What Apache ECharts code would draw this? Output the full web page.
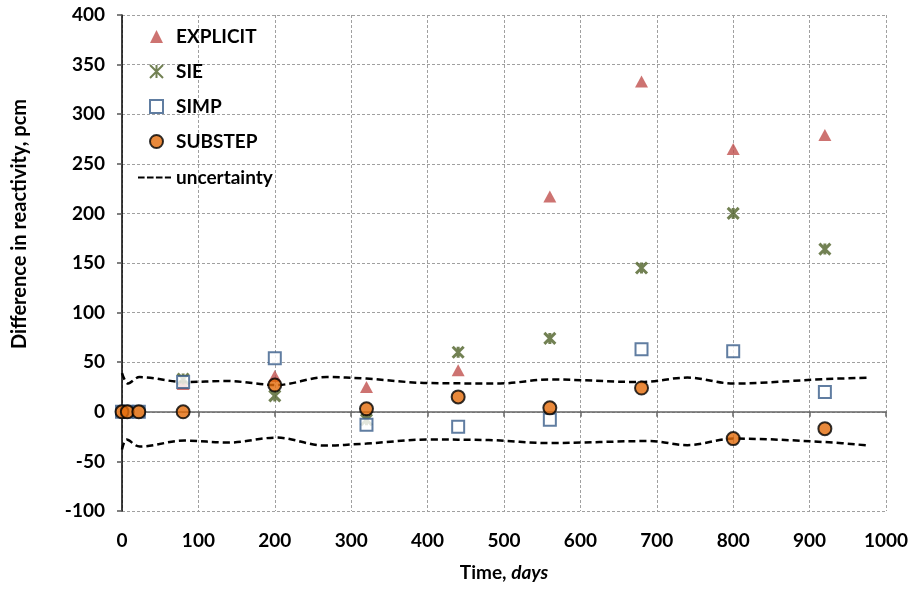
<!DOCTYPE html>
<html>
<head>
<meta charset="utf-8">
<script src="https://cdn.jsdelivr.net/npm/echarts@6/dist/echarts.min.js"></script>
<style>
  html, body { margin: 0; padding: 0; background: #fff; }
  #chart { width: 914px; height: 590px; }
</style>
</head>
<body>
<div id="chart"></div>
<script>
// Burnup time points (days) and reactivity differences (pcm) for each coupling scheme
const days = [0, 7, 22, 80, 200, 320, 440, 560, 680, 800, 920];
const explicitVals = [0, 0, 0, 28, 36, 25, 42, 217, 333, 265, 279];
const sieVals = [0, 0, 0, 33, 16, -8, 60, 74, 145, 200, 164];
const simpVals = [0, 0, 0, 30, 54, -13, -15, -8, 63, 61, 20];
const substepVals = [0, 0, 0, 0, 27, 3, 15, 4, 24, -27, -17];

// Statistical uncertainty band (upper and lower bounds)
const uncUpperDays = [0, 8, 23, 82, 137, 202, 268, 320, 400, 495, 560, 680, 740, 800, 920, 977];
const uncUpperVals = [39, 28.5, 35, 30, 31, 27, 35, 33.5, 29, 28.6, 32.6, 30, 34.5, 28.5, 33, 34.3];
const uncLowerDays = [0, 6, 23, 82, 140, 202, 265, 320, 400, 480, 560, 690, 740, 800, 920, 977];
const uncLowerVals = [-38, -28, -35, -29, -31, -26, -34, -32, -28, -28.5, -31.5, -29.5, -33.6, -27, -30.5, -34];

const xTicks = { min: 0, max: 1000, interval: 100 };
const yTicks = { min: -100, max: 400, interval: 50 };

const FONT = 'Lato';
const pair = (xs, ys) => xs.map((x, i) => [x, ys[i]]);
const starPath = 'path://M0,0L10,10M10,0L0,10M5,0L5,10';
const dashIcon = 'path://M0,0H7V2H0Z M9.5,0H16.5V2H9.5Z M19,0H26V2H19Z M28.5,0H35V2H28.5Z';

const chart = echarts.init(document.getElementById('chart'), null, { renderer: 'canvas' });

const gridLine = { show: true, lineStyle: { color: '#a0a0a0', width: 1, type: [3, 2] } };
const legendText = { fontFamily: FONT, fontSize: 19, fontWeight: 'bold', color: '#000' };
const tickText = { fontFamily: FONT, fontSize: 19, fontWeight: 'bold', color: '#000' };

chart.setOption({
  animation: false,
  backgroundColor: '#ffffff',
  textStyle: { fontFamily: FONT },
  grid: { left: 122, right: 28, top: 15, bottom: 79, containLabel: false },
  legend: [
    {
      orient: 'vertical',
      left: 144,
      top: 22,
      itemWidth: 13,
      itemHeight: 13,
      itemGap: 16,
      textStyle: Object.assign({ padding: [0, 0, 0, 8] }, legendText),
      data: ['EXPLICIT', 'SIE', 'SIMP', 'SUBSTEP']
    },
    {
      orient: 'vertical',
      left: 133,
      top: 163,
      itemWidth: 33,
      itemHeight: 2.5,
      textStyle: legendText,
      data: [{ name: 'uncertainty', icon: dashIcon }]
    }
  ],
  graphic: [
    {
      type: 'text',
      x: 20,
      y: 224,
      rotation: Math.PI / 2,
      style: {
        text: 'Difference in reactivity, pcm',
        fontFamily: FONT, fontSize: 20, fontWeight: 'bold', fill: '#000',
        align: 'center', verticalAlign: 'middle'
      }
    }
  ],
  xAxis: [
    {
      type: 'value',
      min: xTicks.min, max: xTicks.max, interval: xTicks.interval,
      position: 'bottom',
      axisLine: { show: false, onZero: false },
      axisTick: { show: false },
      splitLine: gridLine,
      axisLabel: Object.assign({ margin: 20, formatter: v => String(v) }, tickText),
      name: '{a|Time, }{b|days}',
      nameLocation: 'middle',
      nameGap: 52,
      nameTextStyle: {
        rich: {
          a: { fontFamily: FONT, fontSize: 19, fontWeight: 'bold', color: '#000' },
          b: { fontFamily: FONT, fontSize: 19, fontWeight: 'bold', fontStyle: 'italic', color: '#000' }
        }
      }
    },
    {
      // zero reference line with its tick marks
      type: 'value',
      min: xTicks.min, max: xTicks.max, interval: xTicks.interval,
      position: 'bottom',
      axisLine: { show: true, onZero: true, lineStyle: { color: '#666', width: 1.5 } },
      axisTick: { show: true, length: 5, lineStyle: { color: '#666', width: 1.5 } },
      axisLabel: { show: false },
      splitLine: { show: false }
    }
  ],
  yAxis: {
    type: 'value',
    min: yTicks.min, max: yTicks.max, interval: yTicks.interval,
    axisLine: { show: true, onZero: false, lineStyle: { color: '#000', width: 1.5 } },
    axisTick: { show: true, length: 5, lineStyle: { color: '#555', width: 1.5 } },
    splitLine: gridLine,
    axisLabel: Object.assign({ margin: 17 }, tickText)
  },
  series: [
    {
      name: 'uncertainty', type: 'line', smooth: 0.35, showSymbol: false, symbol: 'none',
      data: pair(uncUpperDays, uncUpperVals), z: 2,
      lineStyle: { color: '#000', width: 2.5, type: [7, 4] },
      itemStyle: { color: '#000' }
    },
    {
      name: 'uncertainty', type: 'line', smooth: 0.35, showSymbol: false, symbol: 'none',
      data: pair(uncLowerDays, uncLowerVals), z: 2,
      lineStyle: { color: '#000', width: 2.5, type: [7, 4] },
      itemStyle: { color: '#000' }
    },
    {
      name: 'EXPLICIT', type: 'scatter', symbol: 'triangle', symbolSize: [13, 12],
      data: pair(days, explicitVals), z: 3,
      itemStyle: { color: '#C0504D' }
    },
    {
      name: 'SIE', type: 'scatter', symbol: starPath, symbolSize: 11,
      data: pair(days, sieVals), z: 4,
      itemStyle: { color: 'rgba(0,0,0,0)', borderColor: '#4F6228', borderWidth: 3 }
    },
    {
      name: 'SIMP', type: 'scatter', symbol: 'rect', symbolSize: 12,
      data: pair(days, simpVals), z: 5,
      itemStyle: { color: '#ffffff', borderColor: '#385D8A', borderWidth: 2 }
    },
    {
      name: 'SUBSTEP', type: 'scatter', symbol: 'circle', symbolSize: 13,
      data: pair(days, substepVals), z: 6,
      itemStyle: { color: '#E46C0A', borderColor: '#000', borderWidth: 2 }
    }
  ]
});
</script>
</body>
</html>
